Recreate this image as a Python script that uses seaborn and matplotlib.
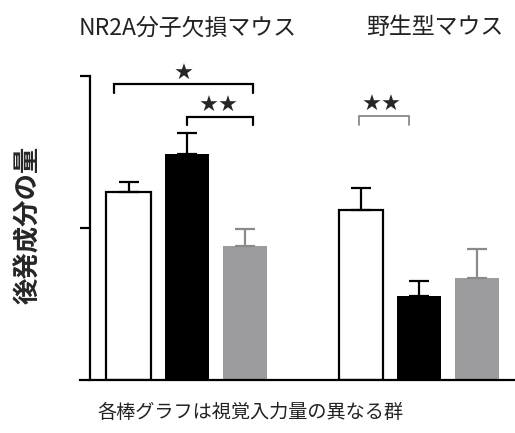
import matplotlib
matplotlib.use("Agg")
import matplotlib.pyplot as plt
import seaborn as sns
import pandas as pd

# Late-component amount for three visual-input groups in each genotype
genotypes = ["NR2A分子欠損マウス", "野生型マウス"]
groups = ["入力A", "入力B", "入力C"]
values = [1.24, 1.49, 0.88, 1.12, 0.555, 0.67]
sem = [0.06, 0.137, 0.114, 0.143, 0.098, 0.193]
bar_colors = ["#ffffff", "#000000", "#9c9c9f"]
err_colors = ["#000000", "#000000", "#8a8a8c"]

ylabel = "後発成分の量"
xlabel = "各棒グラフは視覚入力量の異なる群"

sns.set_theme(style="white")
plt.rcParams["font.family"] = ["Noto Sans CJK JP", "DejaVu Sans"]

rows = []
for gi, g in enumerate(genotypes):
    for ci, c in enumerate(groups):
        rows.append({"bar": f"{g}|{c}", "value": values[gi * 3 + ci]})
df = pd.DataFrame(rows)
labels = list(df["bar"])
# a blank slot separates the two genotypes
order = labels[:3] + ["_gap_"] + labels[3:]
palette = {lab: bar_colors[i % 3] for i, lab in enumerate(labels)}

W, H = 515, 433
fig = plt.figure(figsize=(W / 100, H / 100), dpi=100)
ax = fig.add_axes([80 / W, (H - 380) / H, (W - 80) / W, (380 - 76) / H])

sns.barplot(data=df, x="bar", y="value", order=order, hue="bar",
            hue_order=labels, palette=palette, legend=False,
            errorbar=None, width=0.76, saturation=1, ax=ax)

for i, patch in enumerate(ax.patches):
    col = bar_colors[i % 3]
    if col == "#ffffff":
        patch.set_edgecolor("black")
        patch.set_linewidth(1.6)
    else:
        patch.set_edgecolor(col)
        patch.set_linewidth(0)

# upward-only SEM bars
for i, lab in enumerate(labels):
    xpos = order.index(lab)
    ax.errorbar(xpos, values[i], yerr=[[0], [sem[i]]], fmt="none",
                ecolor=err_colors[i % 3], elinewidth=1.6, capsize=7,
                capthick=1.6, zorder=1)

ax.set_xlim(-0.835, 6.652)
ax.set_ylim(0, 2)
ax.set_xlabel("")
ax.set_ylabel("")
ax.set_xticks([])
ax.set_yticks([1, 2])
ax.set_yticklabels([])
ax.tick_params(axis="y", direction="out", length=7, width=1.6, color="black", left=True)
for s in ["top", "right"]:
    ax.spines[s].set_visible(False)
ax.spines["left"].set_position(("data", -0.663))
ax.spines["left"].set_bounds(0, 2)
ax.spines["left"].set_linewidth(1.6)
ax.spines["left"].set_color("black")
ax.spines["bottom"].set_linewidth(1.6)
ax.spines["bottom"].set_color("black")

def bracket(x0, x1, ytop, yleg, color, lw):
    ax.plot([x0, x0, x1, x1], [yleg, ytop, ytop, yleg], color=color,
            lw=lw, clip_on=False, solid_joinstyle="miter")

bracket(-0.244, 2.148, 1.947, 1.890, "black", 1.6)
bracket(1.002, 2.148, 1.732, 1.678, "black", 1.6)
bracket(3.97, 4.83, 1.737, 1.678, "#8a8a8c", 1.3)
star_font = dict(ha="center", va="center", fontsize=16,
                 family="DejaVu Sans", clip_on=False)
ax.text(0.955, 2.012, "★", **star_font)
ax.text(1.546, 1.80, "★★", **star_font)
ax.text(4.36, 1.81, "★★", **star_font)

fig.text(188 / W, 1 - 28 / H, genotypes[0], ha="center", va="center",
         fontsize=16.5, color="#222222")
fig.text(435 / W, 1 - 28 / H, genotypes[1], ha="center", va="center",
         fontsize=16.5, color="#222222")
fig.text(29 / W, 1 - 225 / H, ylabel, ha="center", va="center",
         rotation=90, fontsize=19, fontweight="bold")
fig.text(250 / W, 1 - 412 / H, xlabel, ha="center", va="center",
         fontsize=13.8, color="#222222")

fig.savefig("out.png", dpi=100)
